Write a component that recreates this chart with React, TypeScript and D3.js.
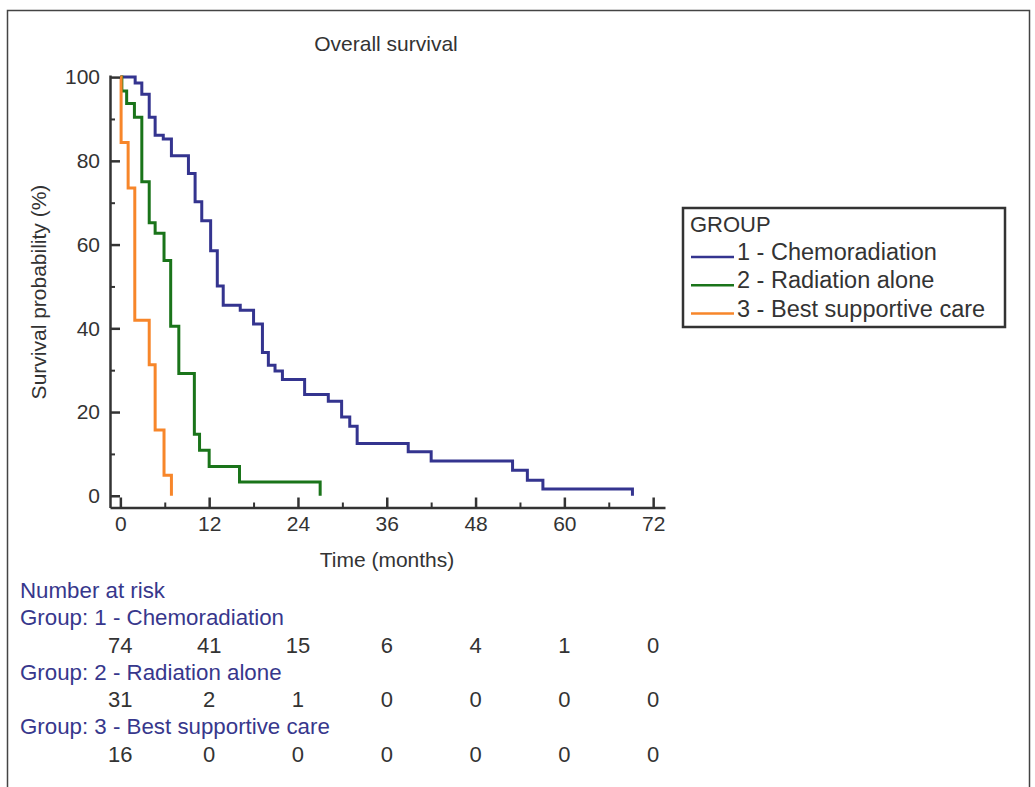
import React, { useRef, useEffect } from 'react';
import * as d3 from 'd3';

// Kaplan-Meier steps: time (months) and survival (%) after each drop
const chemoTimes = [0, 2.0, 2.9, 3.9, 4.7, 5.8, 6.9, 9.2, 10.1, 11.0, 12.2, 13.1, 13.9, 16.2, 18.0, 19.2, 20.0, 20.9, 21.9, 24.9, 28.1, 29.9, 31.0, 32.0, 38.9, 42.0, 53.0, 55.0, 57.1, 69.2];
const chemoSurv = [100, 98.6, 95.9, 90.4, 86.1, 85.2, 81.2, 77.0, 70.2, 65.7, 58.5, 50.1, 45.5, 44.3, 41.0, 34.2, 31.2, 29.8, 27.8, 24.2, 22.6, 18.8, 16.6, 12.5, 10.5, 8.3, 6.1, 3.7, 1.6, 0];

const radTimes = [0, 0.2, 0.85, 1.9, 2.9, 3.9, 4.7, 5.9, 6.8, 7.9, 10.0, 10.7, 12.0, 16.1, 27.0];
const radSurv = [100, 96.7, 93.7, 90.4, 75.0, 65.2, 62.7, 56.2, 40.5, 29.2, 14.7, 10.9, 7.0, 3.3, 0];

const bscTimes = [0, 0.1, 1.05, 1.95, 3.9, 4.7, 5.9, 6.9];
const bscSurv = [100, 84.4, 73.5, 41.9, 31.3, 15.7, 4.9, 0];

const groupNames = ['1 - Chemoradiation', '2 - Radiation alone', '3 - Best supportive care'];
const groupColors = ['#34348f', '#1a741a', '#f7862a'];

const xTicks = [0, 12, 24, 36, 48, 60, 72];
const xMinorTicks = [6, 18, 30, 42, 54, 66];
const yTicks = [0, 20, 40, 60, 80, 100];
const yMinorTicks = [10, 30, 50, 70, 90];

const riskTimes = [0, 12, 24, 36, 48, 60, 72];
const riskChemo = [74, 41, 15, 6, 4, 1, 0];
const riskRad = [31, 2, 1, 0, 0, 0, 0];
const riskBsc = [16, 0, 0, 0, 0, 0, 0];

const FONT = "'Liberation Sans', Arial, sans-serif";

const App = () => {
    const svgRef = useRef<SVGSVGElement | null>(null);
    const width = 1035;
    const height = 787;

    useEffect(() => {
        if (!svgRef.current) return;
        const svg = d3.select(svgRef.current);
        svg.selectAll('*').remove();

        const x = d3.scaleLinear().domain([-1.4, 73.6]).range([110, 665]);
        const y = d3.scaleLinear().domain([-2.8, 100.5]).range([507.5, 75]);

        // outer frame
        svg.append('rect')
            .attr('x', 7.5).attr('y', 10.5)
            .attr('width', 1022).attr('height', 800)
            .attr('fill', 'none').attr('stroke', '#444').attr('stroke-width', 1.5);

        // title
        svg.append('text')
            .attr('x', 386).attr('y', 51)
            .attr('text-anchor', 'middle')
            .attr('font-family', FONT).attr('font-size', 21).attr('fill', '#333')
            .text('Overall survival');

        // survival curves
        const series = [
            { t: chemoTimes, s: chemoSurv },
            { t: radTimes, s: radSurv },
            { t: bscTimes, s: bscSurv },
        ];
        const line = d3.line<[number, number]>()
            .x(d => x(d[0]))
            .y(d => y(d[1]))
            .curve(d3.curveStepAfter);

        series.forEach((sr, i) => {
            const pts = sr.t.map((t, j) => [t, sr.s[j]] as [number, number]);
            svg.append('path')
                .attr('d', line(pts))
                .attr('fill', 'none')
                .attr('stroke', groupColors[i])
                .attr('stroke-width', 3)
                .attr('stroke-linejoin', 'miter');
        });

        // axes, ticks point inward
        const styleAxis = (g: any) => {
            g.select('.domain').attr('stroke', '#333').attr('stroke-width', 2.5);
            g.selectAll('.tick line').attr('stroke', '#333').attr('stroke-width', 2.5);
            g.selectAll('.tick text')
                .attr('font-family', FONT).attr('font-size', 21).attr('fill', '#333');
        };

        const xAxis = svg.append('g')
            .attr('transform', 'translate(0,507.5)')
            .call(d3.axisBottom(x).tickValues(xTicks).tickSizeInner(-10).tickSizeOuter(0).tickPadding(9));
        styleAxis(xAxis);

        const xMinor = svg.append('g')
            .attr('transform', 'translate(0,507.5)')
            .call(d3.axisBottom(x).tickValues(xMinorTicks).tickSizeInner(-5).tickSizeOuter(0).tickFormat(() => ''));
        xMinor.select('.domain').remove();
        xMinor.selectAll('.tick line').attr('stroke', '#333').attr('stroke-width', 2);

        const yAxis = svg.append('g')
            .attr('transform', 'translate(110,0)')
            .call(d3.axisLeft(y).tickValues(yTicks).tickSizeInner(-10).tickSizeOuter(0).tickPadding(10));
        styleAxis(yAxis);

        const yMinor = svg.append('g')
            .attr('transform', 'translate(110,0)')
            .call(d3.axisLeft(y).tickValues(yMinorTicks).tickSizeInner(-5).tickSizeOuter(0).tickFormat(() => ''));
        yMinor.select('.domain').remove();
        yMinor.selectAll('.tick line').attr('stroke', '#333').attr('stroke-width', 2);

        // axis titles
        svg.append('text')
            .attr('x', 387).attr('y', 567)
            .attr('text-anchor', 'middle')
            .attr('font-family', FONT).attr('font-size', 21).attr('fill', '#333')
            .text('Time (months)');

        svg.append('text')
            .attr('transform', 'translate(46,292) rotate(-90)')
            .attr('text-anchor', 'middle')
            .attr('font-family', FONT).attr('font-size', 21).attr('fill', '#333')
            .text('Survival probability (%)');

        // legend
        const lg = svg.append('g');
        lg.append('rect')
            .attr('x', 683).attr('y', 208)
            .attr('width', 322).attr('height', 119)
            .attr('fill', '#fff').attr('stroke', '#333').attr('stroke-width', 2.5);
        lg.append('text')
            .attr('x', 690).attr('y', 232)
            .attr('font-family', FONT).attr('font-size', 22).attr('fill', '#333')
            .text('GROUP');
        groupNames.forEach((name, i) => {
            const by = 260 + i * 28.3;
            lg.append('line')
                .attr('x1', 691).attr('x2', 734)
                .attr('y1', by - 3).attr('y2', by - 3)
                .attr('stroke', groupColors[i]).attr('stroke-width', 2.5);
            lg.append('text')
                .attr('x', 737).attr('y', by)
                .attr('font-family', FONT).attr('font-size', 23.5).attr('fill', '#333')
                .text(name);
        });

        // number at risk table
        const navy = '#37378c';
        const risk = [riskChemo, riskRad, riskBsc];
        svg.append('text')
            .attr('x', 20).attr('y', 598)
            .attr('font-family', FONT).attr('font-size', 22.3).attr('fill', navy)
            .text('Number at risk');
        risk.forEach((row, i) => {
            const base = 625 + i * 54.7;
            svg.append('text')
                .attr('x', 20).attr('y', base)
                .attr('font-family', FONT).attr('font-size', 22.3).attr('fill', navy)
                .text('Group: ' + groupNames[i]);
            svg.append('g').selectAll('text')
                .data(row)
                .enter()
                .append('text')
                .attr('x', (d, j) => x(riskTimes[j]))
                .attr('y', base + 27.5)
                .attr('text-anchor', 'middle')
                .attr('font-family', FONT).attr('font-size', 22).attr('fill', '#333')
                .text(d => String(d));
        });
    }, []);

    return (
        <svg
            ref={svgRef}
            width={width}
            height={height}
            style={{ position: 'absolute', left: 0, top: 0, background: '#fff' }}
        ></svg>
    );
};

export default App;
